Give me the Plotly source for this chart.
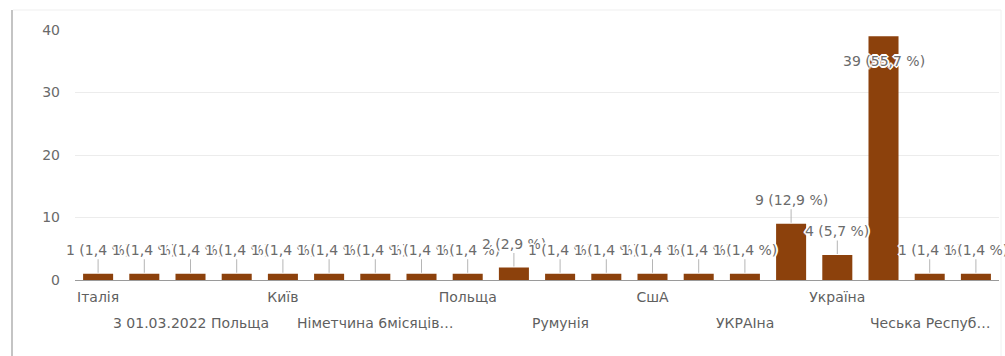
import plotly.graph_objects as go

# Responses per answer (count of people)
values = [1, 1, 1, 1, 1, 1, 1, 1, 1, 2, 1, 1, 1, 1, 1, 9, 4, 39, 1, 1]

# Category labels shown under the axis; blank entries are skipped by the axis
row1_labels = ["Італія", "", "", "", "Київ", "", "", "", "Польща", "",
               "", "", "СшА", "", "", "", "Україна", "", "", ""]
row2_labels = ["", "", "3 01.03.2022 Польща", "", "", "", "Німетчина 6місяців…", "", "", "",
               "Румунія", "", "", "", "УКРАІна", "", "", "", "Чеська Респуб…", ""]

y_ticks = [0, 10, 20, 30, 40]

BAR_COLOR = "#8c410c"
FONT = "DejaVu Sans"
W, H = 1005, 356
ML, MR, MT, MB = 75, 6, 30, 76
PW, PH = W - ML - MR, H - MT - MB

total = sum(values)
x = list(range(len(values)))

fig = go.Figure()
fig.add_trace(go.Bar(
    x=x, y=values,
    marker=dict(color=BAR_COLOR, line=dict(width=0)),
    hoverinfo="skip",
))

halo = ("1px 1px 0 #fff, -1px -1px 0 #fff, 1px -1px 0 #fff, -1px 1px 0 #fff, "
        "2px 0 0 #fff, -2px 0 0 #fff, 0 2px 0 #fff, 0 -2px 0 #fff")

annotations = []
for i, v in enumerate(values):
    pct = f"{v / total * 100:.1f}".replace(".", ",")
    text = f"{v} ({pct} %)"
    if v == max(values):
        # no room above the tallest bar: the label sits inside its top
        annotations.append(dict(
            x=i, y=v, xref="x", yref="y", text=text, showarrow=False,
            yshift=-25, xanchor="center", yanchor="middle",
            font=dict(family=FONT, size=14, color="#6b6b6b", shadow=halo),
        ))
    else:
        annotations.append(dict(
            x=i, y=v, xref="x", yref="y", text=text, showarrow=True,
            arrowhead=0, arrowwidth=1, arrowcolor="#b5b5b5", ax=0, ay=-24,
            standoff=1,
            font=dict(family=FONT, size=14, color="#6b6b6b", shadow=halo),
        ))

# Second row of category labels, staggered below the first
for i, lab in enumerate(row2_labels):
    if lab:
        annotations.append(dict(
            x=i, y=0, xref="x", yref="paper", text=lab, showarrow=False,
            xanchor="center", yanchor="top", yshift=-33,
            font=dict(family=FONT, size=14, color="#5f5f5f"),
        ))

# Card frame: left rule, top and right hairlines
def px_x(p):
    return (p - ML) / PW

def px_y(p):
    return (H - MB - p) / PH

shapes = [
    dict(type="line", xref="paper", yref="paper", x0=px_x(12), x1=px_x(12),
         y0=px_y(10), y1=px_y(H + 5), line=dict(color="#c4c4c4", width=2)),
    dict(type="line", xref="paper", yref="paper", x0=px_x(13), x1=px_x(1001),
         y0=px_y(10), y1=px_y(10), line=dict(color="#efefef", width=1)),
    dict(type="line", xref="paper", yref="paper", x0=px_x(1001), x1=px_x(1001),
         y0=px_y(10), y1=px_y(H + 5), line=dict(color="#f0f0f0", width=1)),
]

fig.update_layout(
    width=W, height=H, autosize=False,
    margin=dict(l=ML, r=MR, t=MT, b=MB, pad=0),
    paper_bgcolor="white", plot_bgcolor="white",
    showlegend=False, bargap=0.35,
    annotations=annotations, shapes=shapes,
    font=dict(family=FONT, size=14, color="#5f5f5f"),
    xaxis=dict(
        range=[-0.5, len(values) - 0.5], tickmode="array",
        tickvals=x, ticktext=row1_labels, showgrid=False,
        zeroline=False, showline=False, ticks="", fixedrange=True,
        tickfont=dict(family=FONT, size=14, color="#5f5f5f"),
        ticklabelstandoff=7,
    ),
    yaxis=dict(
        range=[0, 40], tickmode="array", tickvals=y_ticks,
        showgrid=True, gridcolor="#ececec", gridwidth=1,
        zeroline=True, zerolinecolor="#9a9a9a", zerolinewidth=1,
        showline=False, ticks="", fixedrange=True,
        tickfont=dict(family=FONT, size=14, color="#6a6a6a"),
        ticklabelstandoff=14,
    ),
)

fig.write_html("out.html")
